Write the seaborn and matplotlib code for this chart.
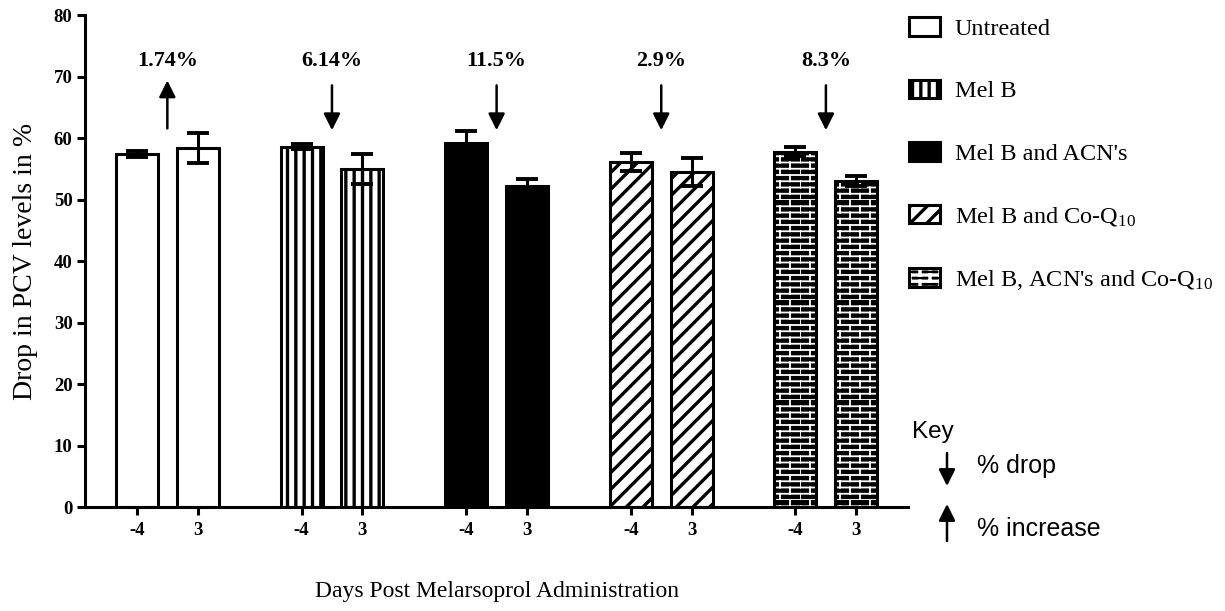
import warnings
import numpy as np
import pandas as pd
import matplotlib
matplotlib.use("Agg")
import matplotlib.pyplot as plt
from matplotlib import hatch as mhatch
from matplotlib.path import Path
from matplotlib.patches import Patch, FancyArrowPatch
from matplotlib.colors import to_rgba
import seaborn as sns

warnings.filterwarnings("ignore")

# ---- data -------------------------------------------------------------
treatments = ["Untreated", "Mel B", "Mel B and ACN's",
              "Mel B and Co-Q$_{10}$", "Mel B, ACN's and Co-Q$_{10}$"]
days = ["-4", "3"]
pcv_day_minus4 = [57.4, 58.6, 59.2, 56.1, 57.8]
pcv_day_3 = [58.4, 55.0, 52.3, 54.5, 53.0]
sem_day_minus4 = [0.5, 0.4, 2.0, 1.5, 0.7]
sem_day_3 = [2.5, 2.4, 1.0, 2.3, 0.8]
change_labels = ["1.74%", "6.14%", "11.5%", "2.9%", "8.3%"]
change_direction = ["increase", "drop", "drop", "drop", "drop"]


# ---- running-bond brick hatch, selected with the 'b' character --------
class BrickHatch(mhatch.HatchPatternBase):
    def __init__(self, hatch, density):
        n = hatch.count("b")
        self.courses = 16 * n
        self.bricks = 5
        self.num_lines = (self.courses + self.courses * self.bricks) if n else 0
        self.num_vertices = self.num_lines * 2

    def set_vertices_and_codes(self, vertices, codes):
        segs = []
        h = 1.0 / self.courses
        w = 1.0 / self.bricks
        for r in range(self.courses):
            y0 = r * h
            segs.append(((0.0, y0), (1.0, y0)))
            off = 0.5 * w if r % 2 else 0.0
            for k in range(self.bricks):
                x = (k * w + off) % 1.0
                segs.append(((x, y0), (x, y0 + h)))
        vertices[:] = np.array(segs).reshape(-1, 2)
        codes[0::2] = Path.MOVETO
        codes[1::2] = Path.LINETO


mhatch._hatch_types.append(BrickHatch)

# ---- style ------------------------------------------------------------
sns.set_theme(style="ticks")
plt.rcParams["font.family"] = ["Liberation Serif", "DejaVu Serif"]
plt.rcParams["mathtext.fontset"] = "custom"
plt.rcParams["mathtext.rm"] = "Liberation Serif"
plt.rcParams["mathtext.default"] = "regular"
plt.rcParams["hatch.linewidth"] = 2.4
for key in ("text.color", "axes.labelcolor", "xtick.color", "ytick.color",
            "axes.edgecolor"):
    plt.rcParams[key] = "black"

# per-treatment bar appearance: (face, hatch, hatch colour)
bar_styles = [
    ("white", None, "black"),
    ("white", "||", "black"),
    ("black", None, "black"),
    ("white", "//", "black"),
    ("black", "b", "white"),
]

df = pd.DataFrame({
    "Treatment": np.repeat(treatments, len(days)),
    "Day": days * len(treatments),
    "PCV": np.ravel(np.column_stack([pcv_day_minus4, pcv_day_3])),
})

fig = plt.figure(figsize=(12.25, 6.11), dpi=100)
ax = fig.add_axes([0.0694, 0.170, 0.672, 0.805])

sns.barplot(data=df, x="Treatment", y="PCV", hue="Day", order=treatments,
            hue_order=days, width=0.74, gap=0.31, errorbar=None,
            legend=False, ax=ax)


def style_patch(p, face, hatch, hcolor, lw=2.2):
    p.set_facecolor(face)
    p.set_edgecolor("black")
    p.set_linewidth(lw)
    p.set_hatch(hatch)
    if hcolor != "black":
        if hasattr(p, "set_hatchcolor"):
            p.set_hatchcolor(hcolor)
        else:
            p._hatch_color = to_rgba(hcolor)
    if hatch == "b":
        if hasattr(p, "set_hatch_linewidth"):
            p.set_hatch_linewidth(1.3)
        else:
            p._hatch_linewidth = 1.3


centers, heights, errs, tick_labels = [], [], [], []
for p in ax.patches:
    cx = p.get_x() + p.get_width() / 2
    gi = int(round(cx))
    di = 0 if cx < gi else 1
    style_patch(p, *bar_styles[gi])
    sem = (sem_day_minus4 if di == 0 else sem_day_3)[gi]
    centers.append(cx)
    heights.append(p.get_height())
    errs.append(sem)
    tick_labels.append(days[di])

ax.errorbar(centers, heights, yerr=errs, fmt="none", ecolor="black",
            elinewidth=2.2, capsize=8, capthick=2.8, zorder=4)

order = np.argsort(centers)
ax.set_xticks(np.array(centers)[order], [tick_labels[i] for i in order])

# change annotations above each treatment
for i, (lab, d) in enumerate(zip(change_labels, change_direction)):
    start, end = (68.6, 61.3) if d == "drop" else (61.6, 69.4)
    ax.annotate("", xy=(i, end), xytext=(i, start),
                arrowprops=dict(arrowstyle="-|>,head_length=0.5,head_width=0.25",
                                color="black", lw=1.8, shrinkA=0, shrinkB=0,
                                mutation_scale=20))
    ax.text(i, 72.6, lab, ha="center", va="center", fontsize=16,
            fontweight="bold")

ax.set_xlim(-0.5, 4.5)
ax.set_ylim(0, 80)
ax.set_yticks(range(0, 81, 10))
sns.despine(ax=ax)
for s in ("left", "bottom"):
    ax.spines[s].set_linewidth(2.2)
ax.tick_params(axis="both", width=2.2, length=6, labelsize=13.5, pad=3)
ax.tick_params(axis="x", pad=5)
for t in ax.get_xticklabels() + ax.get_yticklabels():
    t.set_fontweight("bold")
ax.set_xlabel("Days Post Melarsoprol Administration", fontsize=17, labelpad=30)
ax.set_ylabel("Drop in PCV levels in %", fontsize=20, labelpad=11)

# treatment legend
handles = [Patch(facecolor=f, edgecolor="black", hatch=h, linewidth=2.2)
           for f, h, _ in bar_styles]
for hnd, (f, h, hc) in zip(handles, bar_styles):
    style_patch(hnd, f, h, hc)
leg = fig.legend(handles, treatments, loc="upper left",
                 bbox_to_anchor=(0.724, 1.008), frameon=False, fontsize=17.5,
                 handlelength=1.3, handleheight=0.8, labelspacing=1.64,
                 handletextpad=0.6)

# arrow key
W, H = 1225.0, 611.0
sans = "Liberation Sans"
fig.text(912 / W, 1 - 432 / H, "Key", family=sans, fontsize=17.5, va="center")
for (y0, y1) in ((453, 486), (541, 504)):
    fig.add_artist(FancyArrowPatch(
        (947 / W, 1 - y0 / H), (947 / W, 1 - y1 / H),
        transform=fig.transFigure,
        arrowstyle="-|>,head_length=0.5,head_width=0.25",
        color="black", lw=1.8, shrinkA=0, shrinkB=0, mutation_scale=20))
fig.text(977 / W, 1 - 466 / H, "% drop", family=sans, fontsize=18, va="center")
fig.text(977 / W, 1 - 529 / H, "% increase", family=sans, fontsize=18, va="center")

fig.savefig("out.png", dpi=100)
